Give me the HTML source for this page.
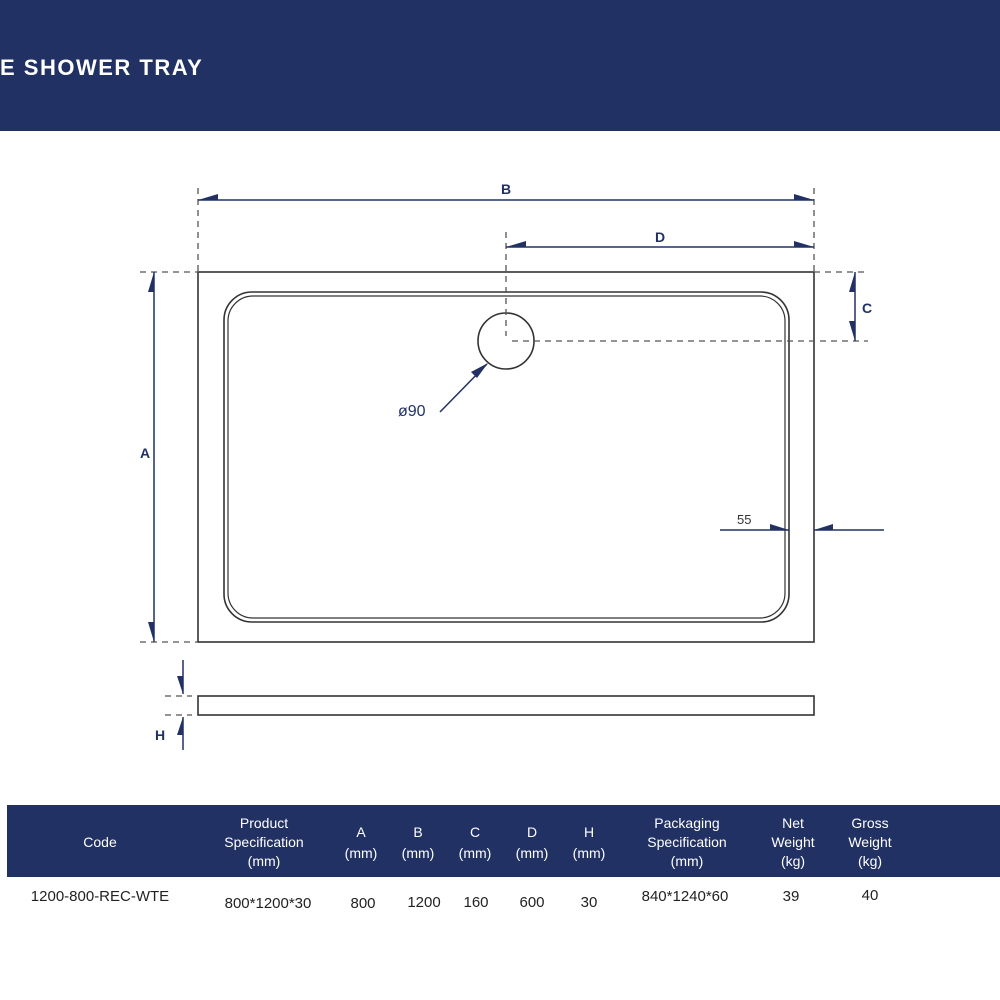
<!DOCTYPE html>
<html><head><meta charset="utf-8"><style>
html,body{margin:0;padding:0;background:#fff;}
body{width:1000px;height:1000px;position:relative;overflow:hidden;font-family:"Liberation Sans",sans-serif;}
.hdr{position:absolute;left:0;top:0;width:1000px;height:131px;background:#223163;}
.hdr span{position:absolute;left:0;top:55px;color:#fff;font-size:22px;font-weight:bold;letter-spacing:1.5px;}
</style></head><body>
<div class="hdr"><span>E SHOWER TRAY</span></div>
<svg width="1000" height="1000" style="position:absolute;left:0;top:0" xmlns="http://www.w3.org/2000/svg">
<g fill="none" stroke="#333" stroke-width="1.6">
<rect x="198" y="272" width="616" height="370"/>
<rect x="224" y="292" width="565" height="330" rx="28"/>
<rect x="228" y="296" width="557" height="322" rx="25" stroke-width="1.2"/>
<circle cx="506" cy="341" r="28"/>
<rect x="198" y="696" width="616" height="19"/>
</g>
<g stroke="#555" stroke-width="1.3" stroke-dasharray="6,5" fill="none">
<line x1="198" y1="188" x2="198" y2="272"/>
<line x1="814" y1="188" x2="814" y2="272"/>
<line x1="506" y1="232" x2="506" y2="336"/>
<line x1="814" y1="272" x2="868" y2="272"/>
<line x1="512" y1="341" x2="868" y2="341"/>
<line x1="140" y1="272" x2="198" y2="272"/>
<line x1="140" y1="642" x2="198" y2="642"/>
<line x1="165" y1="696" x2="192" y2="696"/>
<line x1="165" y1="715" x2="192" y2="715"/>
</g>
<g stroke="#223163" stroke-width="1.5" fill="none">
<line x1="198" y1="200" x2="814" y2="200"/>
<line x1="506" y1="247" x2="814" y2="247"/>
<line x1="855" y1="272" x2="855" y2="341"/>
<line x1="154" y1="272" x2="154" y2="642"/>
<line x1="440" y1="412" x2="487" y2="364"/>
<line x1="720" y1="530" x2="789" y2="530"/>
<line x1="814" y1="530" x2="884" y2="530"/>
<line x1="183" y1="660" x2="183" y2="694"/>
<line x1="183" y1="717" x2="183" y2="750"/>
</g>
<g fill="#223163">
<polygon points="198,200 218,194 218,200"/>
<polygon points="814,200 794,194 794,200"/>
<polygon points="506,247 526,241 526,247"/>
<polygon points="814,247 794,241 794,247"/>
<polygon points="855,272 849,292 855,292"/>
<polygon points="855,341 849,321 855,321"/>
<polygon points="154,272 148,292 154,292"/>
<polygon points="154,642 148,622 154,622"/>
<polygon points="488,363 471,372 477,378"/>
<polygon points="789,530 770,524 770,530"/>
<polygon points="814,530 833,524 833,530"/>
<polygon points="183,694 177,676 183,676"/>
<polygon points="183,717 177,735 183,735"/>
</g>
<g font-family="Liberation Sans,sans-serif" font-weight="bold" font-size="14" fill="#223163" text-anchor="middle">
<text x="506" y="194">B</text>
<text x="660" y="242">D</text>
<text x="867" y="313">C</text>
<text x="145" y="458">A</text>
<text x="160" y="740">H</text>
</g>
<text x="398" y="416" font-family="Liberation Sans,sans-serif" font-size="16" fill="#223163">ø90</text>
<text x="737" y="524" font-family="Liberation Sans,sans-serif" font-size="13" fill="#333">55</text>
<rect x="7" y="805" width="993" height="72" fill="#223163"/>
<g font-family="Liberation Sans,sans-serif" font-size="14" fill="#fff" text-anchor="middle">
<text x="100" y="847">Code</text>
<text x="264" y="828">Product</text><text x="264" y="847">Specification</text><text x="264" y="866">(mm)</text>
<text x="361" y="837">A</text><text x="361" y="858">(mm)</text>
<text x="418" y="837">B</text><text x="418" y="858">(mm)</text>
<text x="475" y="837">C</text><text x="475" y="858">(mm)</text>
<text x="532" y="837">D</text><text x="532" y="858">(mm)</text>
<text x="589" y="837">H</text><text x="589" y="858">(mm)</text>
<text x="687" y="828">Packaging</text><text x="687" y="847">Specification</text><text x="687" y="866">(mm)</text>
<text x="793" y="828">Net</text><text x="793" y="847">Weight</text><text x="793" y="866">(kg)</text>
<text x="870" y="828">Gross</text><text x="870" y="847">Weight</text><text x="870" y="866">(kg)</text>
</g>
<g font-family="Liberation Sans,sans-serif" font-size="15" fill="#222" text-anchor="middle">
<text x="100" y="901">1200-800-REC-WTE</text>
<text x="268" y="908">800*1200*30</text>
<text x="363" y="908">800</text>
<text x="424" y="907">1200</text>
<text x="476" y="907">160</text>
<text x="532" y="907">600</text>
<text x="589" y="907">30</text>
<text x="685" y="901">840*1240*60</text>
<text x="791" y="901">39</text>
<text x="870" y="900">40</text>
</g>
</svg>
</body></html>
